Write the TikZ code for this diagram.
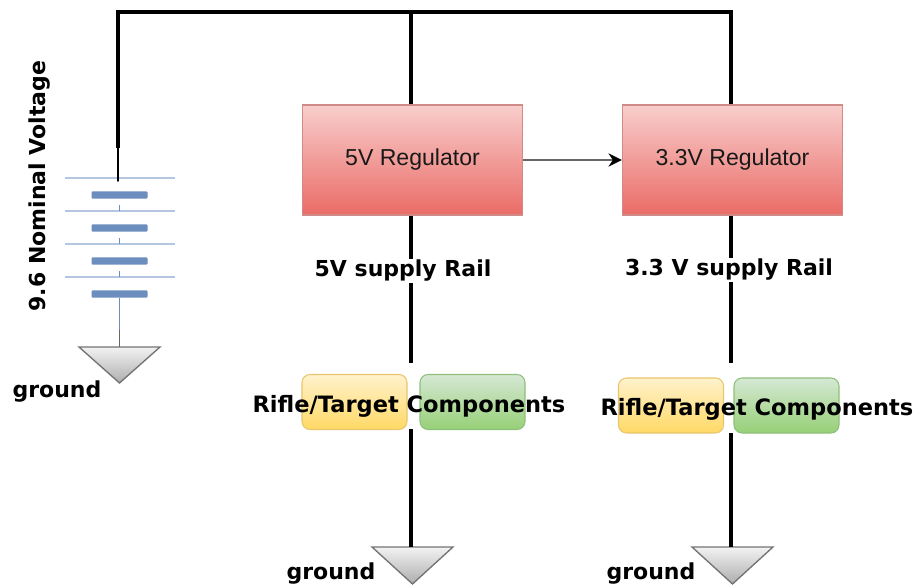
\documentclass[tikz,border=0pt]{standalone}
\usepackage{fontspec}
\setmainfont{DejaVu Sans}
\newfontfamily\regfont{Liberation Sans}
\usetikzlibrary{arrows.meta}
\definecolor{redtop}{HTML}{F8CECC}\definecolor{redbot}{HTML}{EA6B66}\definecolor{redline}{HTML}{D08A88}
\definecolor{yeltop}{HTML}{FFF2CC}\definecolor{yelbot}{HTML}{FFD966}\definecolor{yelline}{HTML}{E8C56E}
\definecolor{grntop}{HTML}{D5E8D4}\definecolor{grnbot}{HTML}{97D077}\definecolor{grnline}{HTML}{8FBF7A}
\definecolor{batdark}{HTML}{6C8EBF}\definecolor{batlight}{HTML}{B4C6E0}
\tikzset{
 x=0.75pt,y=-0.75pt,
 reg/.style={draw=redline,line width=1pt,top color=redtop,bottom color=redbot,minimum width=165pt,minimum height=82.5pt,inner sep=0pt,font=\regfont\fontsize{17.3pt}{20pt}\selectfont,text=black!90},
 yelbox/.style={draw=yelline,line width=.8pt,rounded corners=6pt,top color=yeltop,bottom color=yelbot,minimum width=78.75pt,minimum height=41.25pt,inner sep=0pt},
 grnbox/.style={draw=grnline,line width=.8pt,rounded corners=6pt,top color=grntop,bottom color=grnbot,minimum width=78.75pt,minimum height=41.25pt,inner sep=0pt},
 lbl/.style={font=\bfseries\fontsize{16.5pt}{20pt}\selectfont,inner sep=1pt,text=black},
 complbl/.style={lbl,font=\bfseries\fontsize{16.9pt}{20pt}\selectfont},
 wire/.style={line width=2.32pt,black},
 gnd/.style={draw=black!55,line width=1pt,top color=black!5,bottom color=black!32},
 long/.style={draw=batlight,line width=1.3pt},
 short/.style={fill=batdark,draw=none,minimum width=42pt,minimum height=5.6pt,inner sep=0pt,rounded corners=.8pt},
 thin/.style={draw=batdark,line width=1pt},
}
\begin{document}
\begin{tikzpicture}
\useasboundingbox (0,0) rectangle (915,585);
\node[reg] (r5) at (412.5,160) {\raisebox{-1.5pt}{5V Regulator}};
\node[reg] (r33) at (732.5,160) {\raisebox{-1.5pt}{3.3V Regulator}};
\node[yelbox] (y1) at (354.5,402) {};
\node[grnbox] (g1) at (472.5,402) {};
\node[yelbox] (y2) at (671,405.5) {};
\node[grnbox] (g2) at (786.5,405.5) {};
\coordinate (tl) at (118,12);
\coordinate (tm) at (411,12);
\coordinate (tr) at (731,12);
\coordinate (bf) at (118,148);
\coordinate (be) at (118,181);
\coordinate (m1) at (411,363);
\coordinate (m2) at (731,363);
\coordinate (n1) at (411,429);
\coordinate (n2) at (731,433);
% battery
\foreach \i/\yy in {a/178,b/211,c/244,d/277}{
 \node[inner sep=0pt,minimum size=0pt] (l\i) at (119.5,\yy) {};
 \draw[long] (65,\yy) -- (175,\yy);
}
\foreach \i/\yy in {a/195,b/228,c/261,d/294}{
 \node[short] (s\i) at (119.5,\yy) {};
}
\coordinate (db) at (119.5,205);
\coordinate (dc) at (119.5,238);
\coordinate (dd) at (119.5,271);
\draw[thin] (db) -- (lb);
\draw[thin] (dc) -- (lc);
\draw[thin] (dd) -- (ld);
% grounds
\coordinate (gb) at (119.5,347);
\coordinate (gbm) at (119.5,330);
\coordinate (gm1) at (412.5,547);
\coordinate (gm2) at (732.5,547);
\draw[gnd] (79,347) -- (160,347) -- (119.5,383) -- cycle;
\draw[gnd] (372,547) -- (453,547) -- (412.5,584) -- cycle;
\draw[gnd] (692,547) -- (773,547) -- (732.5,584) -- cycle;
% wires
\draw[thin] (sd) -- (gbm);
\draw[line width=1pt,black!60] (gbm) -- (gb);
\draw[wire] (bf) -- (tl) -- (tr) -- (r33.north -| tr);
\draw[black,line width=1.4pt,line cap=round] (bf) -- (be);
\draw[wire] (tm) -- (r5.north -| tm);
\draw[wire] (r5.south -| tm) -- (m1);
\draw[wire] (r33.south -| tr) -- (m2);
\draw[wire] (n1) -- (gm1 -| n1);
\draw[wire] (n2) -- (gm2 -| n2);
\draw[line width=2pt,black!60,-{Stealth[length=10pt,width=10pt,black]}] (r5.east) -- (r33.west);
% labels
\node[lbl,fill=white] (t5) at (403,271) {5V supply Rail};
\node[lbl,fill=white] (t33) at (729,270) {3.3 V supply Rail};
\node[complbl] (c1) at (409,406) {Rifle/Target Components};
\node[complbl] (c2) at (757,409.5) {Rifle/Target Components};
\node[lbl] (gt0) at (57,392) {ground};
\node[lbl] (gt1) at (331,574) {ground};
\node[lbl] (gt2) at (651,574) {ground};
\node[lbl,rotate=90] (v) at (40,186) {9.6 Nominal Voltage};
\end{tikzpicture}
\end{document}
